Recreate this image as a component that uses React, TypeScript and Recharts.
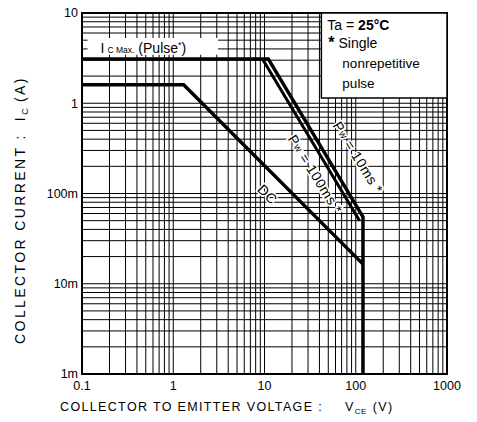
import React from "react";
import {
  LineChart,
  Line,
  XAxis,
  YAxis,
  CartesianGrid,
  ReferenceArea,
  ReferenceDot,
  Label,
} from "recharts";

// ---------- axis ticks ----------
const xTicks = [
  0.1, 0.2, 0.3, 0.4, 0.5, 0.6, 0.7, 0.8, 0.9,
  1, 2, 3, 4, 5, 6, 7, 8, 9,
  10, 20, 30, 40, 50, 60, 70, 80, 90,
  100, 200, 300, 400, 500, 600, 700, 800, 900,
  1000,
];
const yTicks = [
  0.001, 0.002, 0.003, 0.004, 0.005, 0.006, 0.007, 0.008, 0.009,
  0.01, 0.02, 0.03, 0.04, 0.05, 0.06, 0.07, 0.08, 0.09,
  0.1, 0.2, 0.3, 0.4, 0.5, 0.6, 0.7, 0.8, 0.9,
  1, 2, 3, 4, 5, 6, 7, 8, 9,
  10,
];
const xTickLabels: Record<string, string> = {
  "0.1": "0.1",
  "1": "1",
  "10": "10",
  "100": "100",
  "1000": "1000",
};
const yTickLabels: Record<string, string> = {
  "10": "10",
  "1": "1",
  "0.1": "100m",
  "0.01": "10m",
  "0.001": "1m",
};

// ---------- series (V in volts, I in amperes) ----------
const dcVoltage = [0.1, 1.3, 120];
const dcCurrent = [1.6, 1.6, 0.0165];
const pw10Voltage = [0.1, 11, 120, 120];
const pw10Current = [3.1, 3.1, 0.055, 0.001];
const pw100Voltage = [9.5, 110];
const pw100Current = [3.1, 0.05];

const toRows = (v: number[], i: number[]) => v.map((x, k) => ({ v: x, i: i[k] }));
const dcData = toRows(dcVoltage, dcCurrent);
const pw10Data = toRows(pw10Voltage, pw10Current);
const pw100Data = toRows(pw100Voltage, pw100Current);

const FONT = "'Liberation Sans', Arial, Helvetica, sans-serif";

const rotatedText =
  (content: React.ReactNode, angle: number, size: number) => (props: any) => {
    const { cx, cy } = props;
    if (cx == null || cy == null) return <g />;
    return (
      <text
        x={cx}
        y={cy}
        transform={`rotate(${angle} ${cx} ${cy})`}
        textAnchor="middle"
        dominantBaseline="central"
        fontFamily={FONT}
        fontSize={size}
        fill="#000"
        stroke="#fff"
        strokeWidth={3}
        paintOrder="stroke"
        letterSpacing={0.5}
      >
        {content}
      </text>
    );
  };

const XAxisTitle = (props: any) => {
  const vb = props.viewBox || {};
  return (
    <text
      x={vb.x - 22}
      y={vb.y + 37}
      fontFamily={FONT}
      fontSize={12.5}
      letterSpacing={1.35}
      fill="#000"
    >
      COLLECTOR TO EMITTER VOLTAGE :
      <tspan dx={22}>V</tspan>
      <tspan fontSize={8} dy={3} letterSpacing={0.5}>CE</tspan>
      <tspan dy={-3} dx={6}>(V)</tspan>
    </text>
  );
};

const YAxisTitle = (props: any) => {
  const vb = props.viewBox || {};
  const cx = vb.x + 25;
  const cy = 210;
  return (
    <text
      x={cx}
      y={cy}
      transform={`rotate(-90 ${cx} ${cy})`}
      textAnchor="middle"
      fontFamily={FONT}
      fontSize={14}
      letterSpacing={2.4}
      fill="#000"
    >
      COLLECTOR CURRENT :
      <tspan dx={12}>I</tspan>
      <tspan fontSize={9} dy={3}>C</tspan>
      <tspan dy={-3} dx={4}>(A)</tspan>
    </text>
  );
};

const TaBox = (props: any) => {
  const vb = props.viewBox || {};
  const x = vb.x;
  const y = vb.y;
  return (
    <g fontFamily={FONT} fill="#000">
      <text x={x + 6} y={y + 17} fontSize={14}>
        Ta = <tspan fontWeight="bold">25°C</tspan>
      </text>
      <text x={x + 7} y={y + 35} fontSize={14}>
        <tspan fontSize={16} fontWeight="bold">*</tspan> Single
      </text>
      <text x={x + 21} y={y + 55} fontSize={13.5}>
        nonrepetitive
      </text>
      <text x={x + 21} y={y + 75} fontSize={13.5}>
        pulse
      </text>
    </g>
  );
};

const IcMaxLabel = (props: any) => {
  const vb = props.viewBox || {};
  return (
    <text x={vb.x + 13} y={vb.y + vb.height - 2} fontFamily={FONT} fontSize={14} fill="#000">
      I
      <tspan fontSize={8.5} dx={3}>C Max.</tspan>
      <tspan dx={4}>(Pulse</tspan>
      <tspan fontSize={9} dy={-5}>*</tspan>
      <tspan dy={5}>)</tspan>
    </text>
  );
};

export default function App() {
  return (
    <div style={{ width: 477, height: 422, background: "#fff" }}>
      <style>{"body{margin:0;background:#fff}"}</style>
      <LineChart
        width={477}
        height={422}
        margin={{ top: 13, right: 30, left: 0, bottom: 0 }}
      >
        <CartesianGrid stroke="#000" strokeWidth={1} />
        <XAxis
          dataKey="v"
          type="number"
          scale="log"
          domain={[0.1, 1000]}
          ticks={xTicks}
          interval={0}
          allowDataOverflow
          tickFormatter={(v: number) => xTickLabels[String(v)] ?? ""}
          tickLine={false}
          tickSize={2}
          tickMargin={5}
          axisLine={{ stroke: "#000", strokeWidth: 2 }}
          tick={{ fill: "#000", fontSize: 12.5, fontFamily: FONT }}
          height={48}
        >
          <Label content={XAxisTitle} />
        </XAxis>
        <YAxis
          dataKey="i"
          type="number"
          scale="log"
          domain={[0.001, 10]}
          ticks={yTicks}
          interval={0}
          allowDataOverflow
          tickFormatter={(v: number) => yTickLabels[String(v)] ?? ""}
          tickLine={false}
          tickSize={2}
          tickMargin={2}
          axisLine={{ stroke: "#000", strokeWidth: 2 }}
          tick={{ fill: "#000", fontSize: 12.5, fontFamily: FONT }}
          width={82}
        >
          <Label content={YAxisTitle} />
        </YAxis>

        <ReferenceArea
          x1={0.1}
          x2={1000}
          y1={0.001}
          y2={10}
          fill="none"
          fillOpacity={0}
          stroke="#000"
          strokeWidth={2}
        />
        <ReferenceArea
          x1={42}
          x2={1000}
          y1={1.14}
          y2={10}
          fill="#fff"
          fillOpacity={1}
          stroke="#000"
          strokeWidth={1.5}
          label={{ content: TaBox } as any}
        />
        <ReferenceArea
          x1={0.115}
          x2={3.1}
          y1={3.45}
          y2={5.3}
          fill="#fff"
          fillOpacity={1}
          stroke="none"
          label={{ content: IcMaxLabel } as any}
        />

        <Line
          data={pw10Data}
          dataKey="i"
          type="linear"
          stroke="#000"
          strokeWidth={3.5}
          dot={false}
          isAnimationActive={false}
        />
        <Line
          data={pw100Data}
          dataKey="i"
          type="linear"
          stroke="#000"
          strokeWidth={3}
          dot={false}
          isAnimationActive={false}
        />
        <Line
          data={dcData}
          dataKey="i"
          type="linear"
          stroke="#000"
          strokeWidth={3.5}
          dot={false}
          isAnimationActive={false}
        />

        <ReferenceDot
          x={106}
          y={0.25}
          r={0}
          shape={rotatedText(
            <>
              P<tspan fontSize={10}>w</tspan> = 10ms *
            </>,
            58,
            14
          )}
        />
        <ReferenceDot
          x={36}
          y={0.163}
          r={0}
          shape={rotatedText(
            <>
              P<tspan fontSize={10}>w</tspan> = 100ms *
            </>,
            58,
            14
          )}
        />
        <ReferenceDot x={10.8} y={0.098} r={0} shape={rotatedText("DC", 45, 14)} />
      </LineChart>
    </div>
  );
}
